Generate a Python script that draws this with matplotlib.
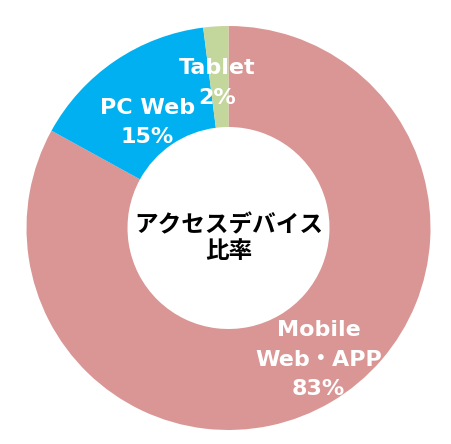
import matplotlib
matplotlib.use("Agg")
import matplotlib.pyplot as plt
import numpy as np

categories = ["Mobile\nWeb・APP", "PC Web", "Tablet"]
values = [83, 15, 2]
colors = ["#D99694", "#00B0F0", "#C3D69B"]
center_title = "アクセスデバイス\n比率"

# label placement (radius fraction, angle shift in degrees from wedge middle)
label_r = [0.79, 0.66, 0.72]
label_shift = [3.8, 3.4, 0.9]

plt.rcParams['font.family'] = ['DejaVu Sans', 'Noto Sans CJK JP']

W, H = 452, 444
fig = plt.figure(figsize=(W / 100, H / 100), dpi=100)
cx, cy, R = 228.5, 216, 202
ax = fig.add_axes([(cx - R) / W, (cy - R) / H, 2 * R / W, 2 * R / H])

wedges, _ = ax.pie(values, colors=colors, startangle=90, counterclock=False,
                   radius=1.0, wedgeprops=dict(width=0.5, linewidth=0))
ax.set_xlim(-1, 1)
ax.set_ylim(-1, 1)
ax.set_aspect('equal')
ax.axis('off')

total = sum(values)
for i, (w, lab, v) in enumerate(zip(wedges, categories, values)):
    mid = (w.theta1 + w.theta2) / 2 + label_shift[i]
    x = label_r[i] * np.cos(np.deg2rad(mid))
    y = label_r[i] * np.sin(np.deg2rad(mid))
    ax.text(x, y, f"{lab}\n{round(v / total * 100)}%", ha='center', va='center',
            color='white', fontsize=16, fontweight='bold', linespacing=1.6,
            family=['DejaVu Sans', 'Noto Sans CJK JP'])

ax.text(0, -0.05, center_title, ha='center', va='center', color='black',
        fontsize=17, fontweight='bold', linespacing=1.05,
        family=['Noto Sans CJK JP', 'DejaVu Sans'])

fig.savefig("out.png", dpi=100)
